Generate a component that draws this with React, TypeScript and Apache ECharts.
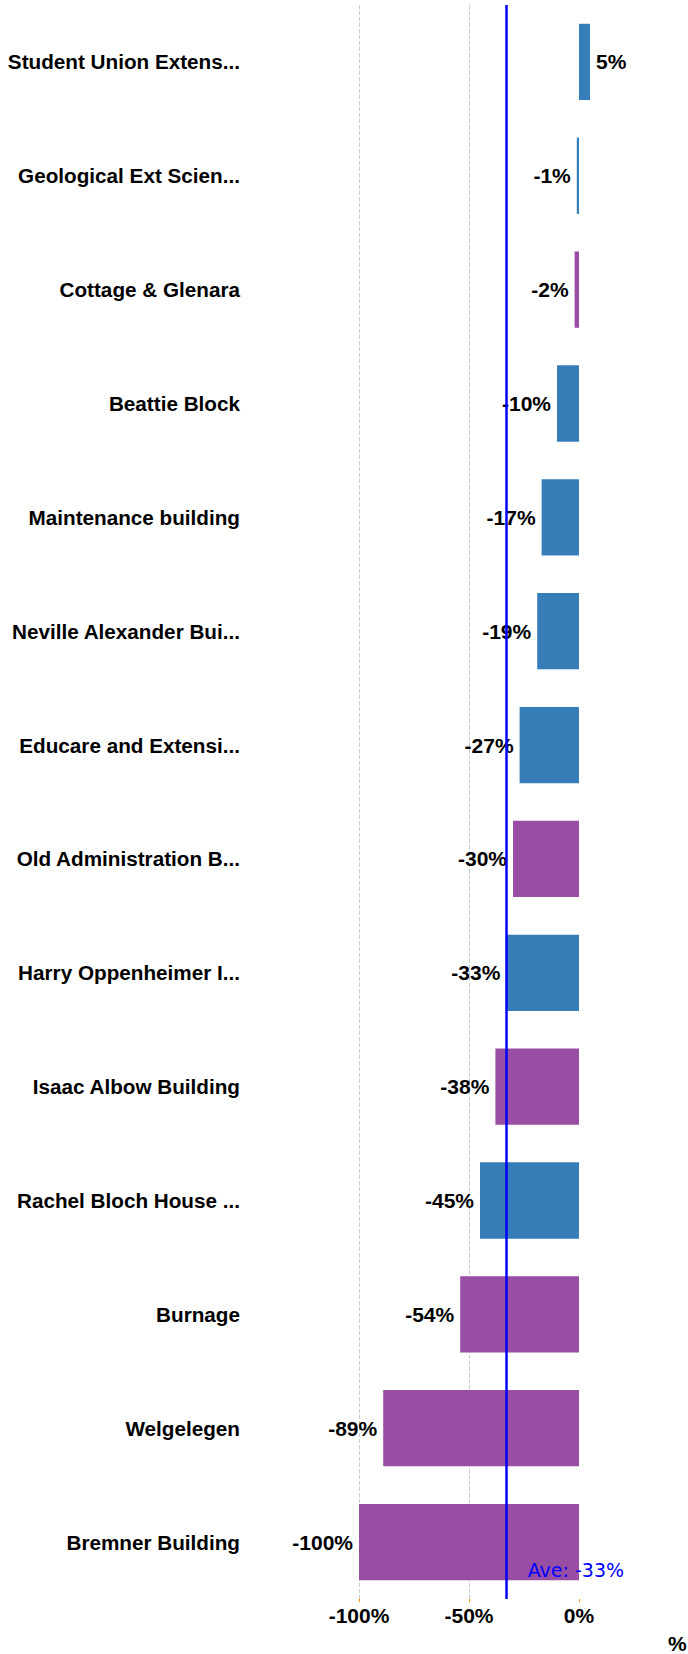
import React, { useEffect, useRef } from "react";
import * as echarts from "echarts";

const categories = [
  "Student Union Extens...",
  "Geological Ext Scien...",
  "Cottage & Glenara",
  "Beattie Block",
  "Maintenance building",
  "Neville Alexander Bui...",
  "Educare and Extensi...",
  "Old Administration B...",
  "Harry Oppenheimer I...",
  "Isaac Albow Building",
  "Rachel Bloch House ...",
  "Burnage",
  "Welgelegen",
  "Bremner Building",
];

const values = [5, -1, -2, -10, -17, -19, -27, -30, -33, -38, -45, -54, -89, -100];

const groups = ["A", "A", "B", "A", "A", "A", "A", "B", "A", "B", "A", "B", "B", "B"];

const groupColors: Record<string, string> = { A: "#377eb8", B: "#984ea3" };

const xTicks = [-100, -50, 0];

export default function App() {
  const ref = useRef<HTMLDivElement>(null);
  useEffect(() => {
    document.body.style.margin = "0";
    const chart = echarts.init(ref.current!, null, { renderer: "svg" });
    const boldFont = "Arial, 'Liberation Sans', sans-serif";
    chart.setOption({
      animation: false,
      grid: {
        left: 359,
        right: 98,
        top: 5,
        bottom: 55,
        containLabel: false,
        outerBoundsMode: "none",
      },
      xAxis: {
        type: "value",
        min: -100,
        max: 5,
        interval: 50,
        name: "%",
        nameLocation: "end",
        nameGap: 78,
        nameTextStyle: {
          fontFamily: boldFont,
          fontWeight: "bold",
          fontSize: 21,
          color: "#000",
          verticalAlign: "top",
          lineHeight: 88,
        },
        axisLine: { show: false },
        axisTick: {
          show: true,
          length: 3,
          customValues: xTicks,
          lineStyle: { color: "#ff9900" },
        },
        axisLabel: {
          customValues: xTicks,
          formatter: (v: number) => `${v}%`,
          fontFamily: boldFont,
          fontWeight: "bold",
          fontSize: 21,
          color: "#000",
          margin: 6,
        },
        splitLine: {
          show: true,
          showMinLine: true,
          showMaxLine: false,
          lineStyle: { type: "dashed", color: "#cccccc", width: 1 },
        },
      },
      yAxis: {
        type: "category",
        inverse: true,
        data: categories,
        axisLine: { show: false },
        axisTick: { show: false },
        splitLine: { show: false },
        axisLabel: {
          fontFamily: boldFont,
          fontWeight: "bold",
          fontSize: 20.7,
          color: "#000",
          margin: 119,
        },
      },
      series: [
        {
          type: "bar",
          barCategoryGap: "33%",
          data: values.map((v, i) => ({
            value: v,
            itemStyle: { color: groupColors[groups[i]] },
            label: { position: v >= 0 ? "right" : "left" },
          })),
          label: {
            show: true,
            formatter: (p: any) => `${p.value}%`,
            fontFamily: boldFont,
            fontWeight: "bold",
            fontSize: 21,
            color: "#000",
            distance: 6,
          },
          markLine: {
            silent: true,
            symbol: "none",
            lineStyle: { color: "#0000ff", width: 2.5, type: "solid" },
            label: {
              show: true,
              position: "end",
              formatter: (p: any) => `Ave: ${Math.round(p.value)}%`,
              color: "#0000ff",
              fontSize: 19,
              fontFamily: "'DejaVu Sans', sans-serif",
              align: "left",
              verticalAlign: "middle",
              padding: [0, 0, 0, 21],
              distance: [0, -29],
            },
            data: [{ type: "average", name: "Ave", valueDim: "x" }],
          },
        },
      ],
    });
    return () => chart.dispose();
  }, []);
  return <div ref={ref} style={{ width: 688, height: 1654 }} />;
}
